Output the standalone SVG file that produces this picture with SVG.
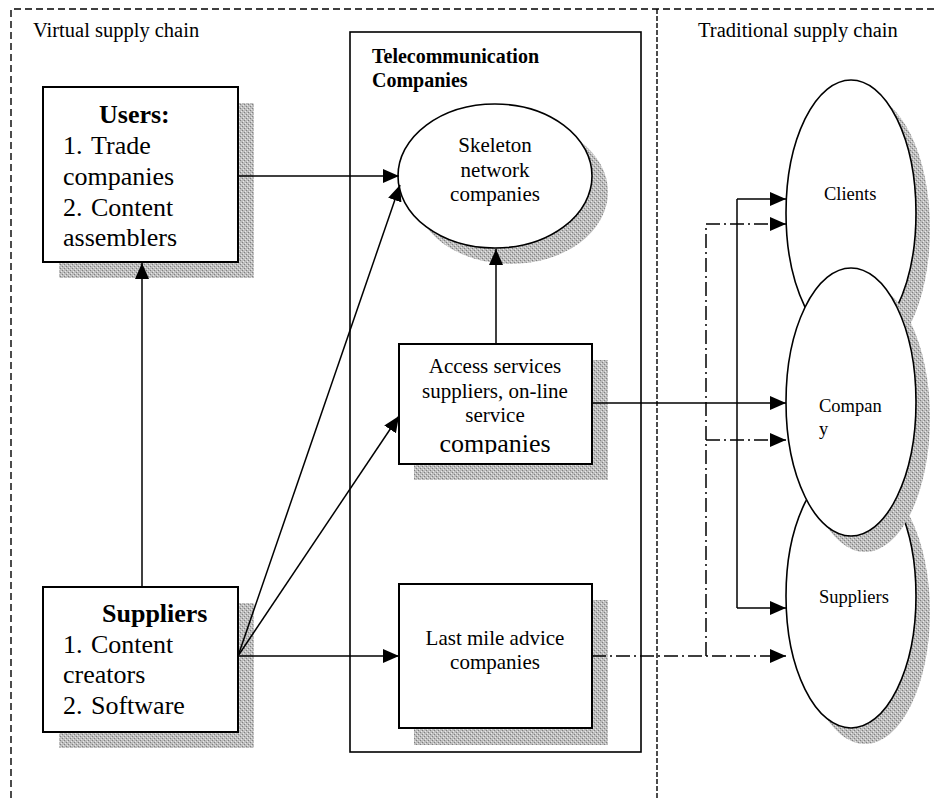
<svg xmlns="http://www.w3.org/2000/svg" width="935" height="798" viewBox="0 0 935 798">
<style>
text{font-family:"Liberation Serif","Times New Roman",serif;fill:#000}
.box{fill:#fff;stroke:#000;stroke-width:2}
.ell{fill:#fff;stroke:#000;stroke-width:1.6}
.sh{fill:url(#stip);stroke:none}
.c{fill:none;stroke:#000;stroke-width:1.5}
.dd{fill:none;stroke:#000;stroke-width:1.5;stroke-dasharray:14 4 2 4}
.b{font-weight:bold}
</style>
<defs>
<pattern id="stip" width="4" height="4" patternUnits="userSpaceOnUse">
<rect width="4" height="4" fill="#bdbdbd"/>
<rect x="0" y="0" width="1" height="1" fill="#808080"/>
<rect x="2" y="2" width="1" height="1" fill="#808080"/>
<rect x="3" y="1" width="1" height="1" fill="#e8e8e8"/>
<rect x="1" y="3" width="1" height="1" fill="#e8e8e8"/>
</pattern>
<marker id="ah" markerUnits="userSpaceOnUse" markerWidth="17" markerHeight="15" refX="16" refY="7" orient="auto">
<path d="M0,0 L16,7 L0,14 z" fill="#000"/>
</marker>
<clipPath id="accClip"><rect x="399" y="344" width="193" height="110"/></clipPath>
</defs>

<g id="frame">
<path d="M11,798 V9 H935" fill="none" stroke="#000" stroke-width="1.4" stroke-dasharray="7 4"/>
<line x1="657" y1="9" x2="657" y2="798" stroke="#000" stroke-width="1.4" stroke-dasharray="5 2"/>
<text x="33" y="37" font-size="20.5">Virtual supply chain</text>
<text x="698" y="37" font-size="20.5">Traditional supply chain</text>
</g>

<g id="telecom">
<rect x="350" y="32" width="291" height="720" fill="none" stroke="#000" stroke-width="1.6"/>
<text class="b" x="372" y="63" font-size="20">Telecommunication</text>
<text class="b" x="372" y="87" font-size="20">Companies</text>
</g>

<g id="users">
<rect class="sh" x="59" y="103" width="195" height="175"/>
<rect class="box" x="43" y="87" width="195" height="175"/>
<text class="b" x="99" y="123" font-size="26">Users:</text>
<text x="63" y="154" font-size="26">1.</text><text x="91" y="154" font-size="26">Trade</text>
<text x="63" y="185" font-size="26">companies</text>
<text x="63" y="216" font-size="26">2.</text><text x="91" y="216" font-size="26">Content</text>
<text x="63" y="246" font-size="26">assemblers</text>
</g>

<g id="suppliers">
<rect class="sh" x="59" y="603" width="195" height="145"/>
<rect class="box" x="43" y="587" width="195" height="145"/>
<text class="b" x="102" y="622" font-size="26">Suppliers</text>
<text x="63" y="653" font-size="26">1.</text><text x="91" y="653" font-size="26">Content</text>
<text x="63" y="683" font-size="26">creators</text>
<text x="63" y="714" font-size="26">2.</text><text x="91" y="714" font-size="26">Software</text>
</g>

<g id="skeleton">
<ellipse class="sh" cx="511" cy="192" rx="97" ry="72"/>
<ellipse class="ell" cx="495" cy="176" rx="97" ry="72"/>
<text x="495" y="152" font-size="21" text-anchor="middle">Skeleton</text>
<text x="495" y="177" font-size="21" text-anchor="middle">network</text>
<text x="495" y="201" font-size="21" text-anchor="middle">companies</text>
</g>

<g id="access">
<rect class="sh" x="414" y="360" width="194" height="120"/>
<rect class="box" x="399" y="344" width="193" height="120"/>
<text x="495" y="373" font-size="21" text-anchor="middle">Access services</text>
<text x="495" y="398" font-size="21" text-anchor="middle">suppliers, on-line</text>
<text x="495" y="422" font-size="21" text-anchor="middle">service</text>
<text x="495" y="452" font-size="26" text-anchor="middle" clip-path="url(#accClip)">companies</text>
</g>

<g id="lastmile">
<rect class="sh" x="414" y="600" width="194" height="145"/>
<rect class="box" x="399" y="584" width="193" height="144"/>
<text x="495" y="645" font-size="21" text-anchor="middle">Last mile advice</text>
<text x="495" y="669" font-size="21" text-anchor="middle">companies</text>
</g>

<g id="clients">
<ellipse class="sh" cx="865" cy="229" rx="65" ry="133"/>
<ellipse class="ell" cx="851" cy="213" rx="65" ry="133"/>
<text x="824" y="200" font-size="18.5">Clients</text>
</g>

<g id="tsuppliers">
<ellipse class="sh" cx="865" cy="612" rx="65" ry="132"/>
<ellipse class="ell" cx="851" cy="596" rx="65" ry="132"/>
<text x="819" y="603" font-size="18.5">Suppliers</text>
</g>

<g id="company">
<ellipse class="sh" cx="865" cy="418" rx="65" ry="134"/>
<ellipse class="ell" cx="851" cy="402" rx="65" ry="134"/>
<text x="819" y="412" font-size="18.5">Compan</text>
<text x="819" y="435" font-size="18.5">y</text>
</g>

<g id="connectors">
<line class="c" x1="238" y1="176" x2="399" y2="176" marker-end="url(#ah)"/>
<line class="c" x1="142" y1="587" x2="142" y2="263" marker-end="url(#ah)"/>
<line class="c" x1="238" y1="656" x2="400" y2="185" marker-end="url(#ah)"/>
<line class="c" x1="238" y1="656" x2="399" y2="416" marker-end="url(#ah)"/>
<line class="c" x1="238" y1="656" x2="399" y2="656" marker-end="url(#ah)"/>
<line class="c" x1="496" y1="344" x2="496" y2="249" marker-end="url(#ah)"/>
<line class="c" x1="592" y1="403" x2="786" y2="403" marker-end="url(#ah)"/>
<line class="c" x1="737" y1="199" x2="737" y2="608"/>
<line class="c" x1="737" y1="199" x2="786" y2="199" marker-end="url(#ah)"/>
<line class="c" x1="737" y1="608" x2="786" y2="608" marker-end="url(#ah)"/>
<line class="dd" x1="592" y1="656" x2="786" y2="656" marker-end="url(#ah)"/>
<line class="dd" x1="706" y1="656" x2="706" y2="224"/>
<line class="dd" x1="706" y1="224" x2="786" y2="224" marker-end="url(#ah)"/>
<line class="dd" x1="706" y1="440" x2="786" y2="440" marker-end="url(#ah)"/>
</g>
</svg>
